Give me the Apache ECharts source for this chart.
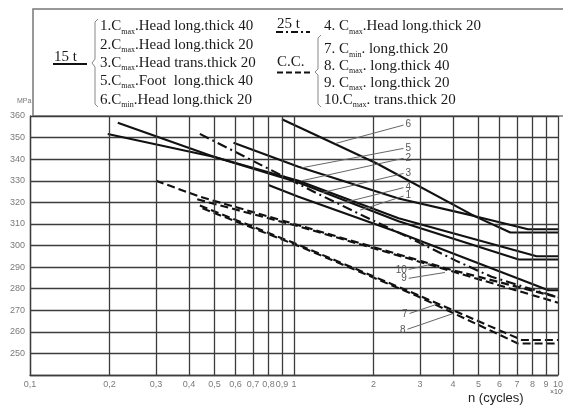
<!DOCTYPE html>
<html><head><meta charset="utf-8">
<script src="https://cdn.jsdelivr.net/npm/echarts@6/dist/echarts.min.js"></script>
<style>html,body{margin:0;padding:0;background:#fff}#c{width:563px;height:407px}</style>
</head><body><div id="c"></div>
<script>
// ---- data ----
const xGrid = [0.1,0.2,0.3,0.4,0.5,0.6,0.7,0.8,0.9,1,2,3,4,5,6,7,8,9,10];
const xTickLabels = ['0,1','0,2','0,3','0,4','0,5','0,6','0,7','0,8','0,9','1','2','3','4','5','6','7','8','9','10'];
const yTicks = [250,260,270,280,290,300,310,320,330,340,350,360];
const line1 = [[0.8,328],[1.04,322.6],[2.49,306],[9.2,279.3],[10,279.3]];
const line2 = [[0.197,351.7],[0.5,341],[1.04,330],[2.49,312.6],[8.3,295],[10,295]];
const line3 = [[0.215,356.9],[0.5,341],[1.04,329.2],[2.49,311.2],[7.1,293.5],[10,293.5]];
const line4 = [[0.44,351.7],[1.22,324.2],[1.86,313.3],[2.8,303],[4.1,293],[5.6,285.5],[10,276]];
const line5 = [[0.59,347.6],[1.04,336.5],[2.49,321.8],[4.85,313.6],[7.7,307.5],[10,307.5]];
const line6 = [[0.9,358.5],[2.06,338],[4.85,313.5],[6.6,306],[10,306]];
const line7 = [[0.44,318.5],[1.04,300.3],[2.9,277.4],[7.3,256.2],[10,256.2]];
const line8 = [[0.45,317.2],[1.04,299.8],[2.9,276.8],[7.05,254.6],[10,254.6]];
const line9 = [[0.43,321.4],[1.04,308.9],[3.9,288.3],[10,273.5]];
const line10 = [[0.3,330],[0.44,322.6],[1.04,309.4],[3.9,288.9],[10,276]];
const leaderLabels = ['6','5','2','3','4','1','10','9','7','8'];
const leaderFrom = [[2.6,355.8],[2.6,345],[2.6,340.4],[2.6,333.4],[2.6,326.8],[2.6,322.9],[2.72,288.9],[2.72,284.8],[2.74,268.5],[2.69,261.2]];
const leaderTo = [[1.44,347.3],[1.07,336],[1.07,330],[1.28,324.5],[1.48,319.3],[1.78,316.4],[3.28,291.2],[3.73,287.5],[3.42,272.5],[4.01,268.5]];
const legend15 = [
  ['1.C','max','.Head long.thick 40'],
  ['2.C','max','.Head long.thick 20'],
  ['3.C','max','.Head trans.thick 20'],
  ['5.C','max','.Foot  long.thick 40'],
  ['6.C','min','.Head long.thick 20']
];
const legend25 = [['4. C','max','.Head long.thick 20']];
const legendCC = [
  ['7. C','min','. long.thick 20'],
  ['8. C','max','. long.thick 40'],
  ['9. C','max','. long.thick 20'],
  ['10.C','max','. trans.thick 20']
];

// ---- chart ----
const chart = echarts.init(document.getElementById('c'), null, {renderer:'canvas'});
const GRID = '#3c3c3c';
const SERIF = '"Liberation Serif", "DejaVu Serif", serif';
const SANS = '"Liberation Sans", Arial, sans-serif';
const solid = {type:'solid', width:2.1, color:'#111'};
const dashed = {type:[8,4], width:2.1, color:'#111'};
const dashdot = {type:[10,4,2,4], width:2.1, color:'#111'};

function mk(name, data, ls) {
  return {name, type:'line', data, symbol:'none', z:3, lineStyle:ls, animation:false, silent:true};
}
const series = [
  mk('1', line1, solid), mk('2', line2, solid), mk('3', line3, solid),
  mk('4', line4, dashdot), mk('5', line5, solid), mk('6', line6, solid),
  mk('7', line7, dashed), mk('8', line8, dashed), mk('9', line9, dashed), mk('10', line10, dashed)
];
series.push({
  type:'line', data:[], z:1, silent:true, animation:false,
  markLine:{
    silent:true, symbol:'none', animation:false,
    lineStyle:{color:GRID, width:1.3, type:'solid'},
    label:{position:'start', color:'#7a7a7a', fontSize:9, fontFamily:SANS, distance:5},
    data: xGrid.map((v,i)=>({xAxis:v, label:{formatter:xTickLabels[i]}}))
  }
});
series.push({
  type:'line', data:[], z:4, silent:true, animation:false,
  markLine:{
    silent:true, symbol:'none', animation:false,
    lineStyle:{color:'#666', width:1, type:'solid'},
    label:{position:'start', color:'#555', fontSize:10, fontFamily:SANS, distance:2},
    data: leaderLabels.map((t,i)=>[{coord:leaderFrom[i], label:{formatter:t}},{coord:leaderTo[i]}])
  }
});

function rich(rows, x, y0, dy) {
  return rows.map((r,i)=>({
    type:'text', left:x, top:y0 + i*dy - 7, silent:true,
    style:{
      text:'{n|'+r[0]+'}{s|'+r[1]+'}{n|'+r[2]+'}',
      rich:{
        n:{fontFamily:SERIF, fontSize:15, fill:'#1a1a1a', lineHeight:18, verticalAlign:'middle'},
        s:{fontFamily:SERIF, fontSize:8, fill:'#1a1a1a', lineHeight:8, verticalAlign:'bottom'}
      }
    }
  }));
}

const graphic = [
  {type:'rect', shape:{x:33, y:9, width:560, height:107}, style:{fill:'none', stroke:'#777', lineWidth:1.5}, silent:true},
  {type:'text', left:54, top:50, style:{text:'15 t', fontFamily:SERIF, fontSize:15, fill:'#1a1a1a'}},
  {type:'line', shape:{x1:53, y1:64, x2:87, y2:64}, style:{stroke:'#111', lineWidth:2}},
  {type:'polyline', shape:{points:[[98,19],[95,22],[95,59],[92,63],[95,67],[95,104],[98,107]]}, style:{stroke:'#888', lineWidth:1, fill:'none'}},
  {type:'text', left:277, top:17, style:{text:'25 t', fontFamily:SERIF, fontSize:15, fill:'#1a1a1a'}},
  {type:'line', shape:{x1:276, y1:32, x2:310, y2:32}, style:{stroke:'#111', lineWidth:2, lineDash:[7,3,2,3]}},
  {type:'text', left:277, top:55, style:{text:'C.C.', fontFamily:SERIF, fontSize:15, fill:'#1a1a1a'}},
  {type:'line', shape:{x1:277, y1:72.5, x2:310, y2:72.5}, style:{stroke:'#111', lineWidth:2, lineDash:[6,3]}},
  {type:'polyline', shape:{points:[[321,35],[318,38],[318,69],[315,72],[318,75],[318,104],[321,107]]}, style:{stroke:'#888', lineWidth:1, fill:'none'}},
  {type:'text', left:17, top:98, style:{text:'MPa', fontFamily:SANS, fontSize:7, fill:'#777'}},
  {type:'text', left:468, top:392, style:{text:'n (cycles)', fontFamily:SANS, fontSize:13, fill:'#222'}},
  {type:'text', left:550, top:389, style:{text:'×10⁶', fontFamily:SANS, fontSize:7, fill:'#555'}}
].concat(rich(legend15, 100, 26, 18.3), rich(legend25, 324, 26, 0), rich(legendCC, 324, 49, 16.7));

chart.setOption({
  animation:false,
  backgroundColor:'#fff',
  grid:{left:30, right:5, top:116, bottom:32, containLabel:false},
  xAxis:{type:'log', logBase:10, min:0.1, max:10,
    axisLine:{show:true, lineStyle:{color:GRID, width:1.3}},
    axisTick:{show:false}, axisLabel:{show:false}, splitLine:{show:false}},
  yAxis:{type:'value', min:240, max:360, interval:10,
    axisLine:{show:true, lineStyle:{color:GRID, width:1.3}},
    axisTick:{show:false},
    axisLabel:{color:'#7a7a7a', fontSize:9, fontFamily:SANS, margin:5,
      formatter:(v)=> yTicks.indexOf(v) >= 0 ? String(v) : ''},
    splitLine:{show:true, lineStyle:{color:GRID, width:1.3}}},
  series,
  graphic
});
</script></body></html>
